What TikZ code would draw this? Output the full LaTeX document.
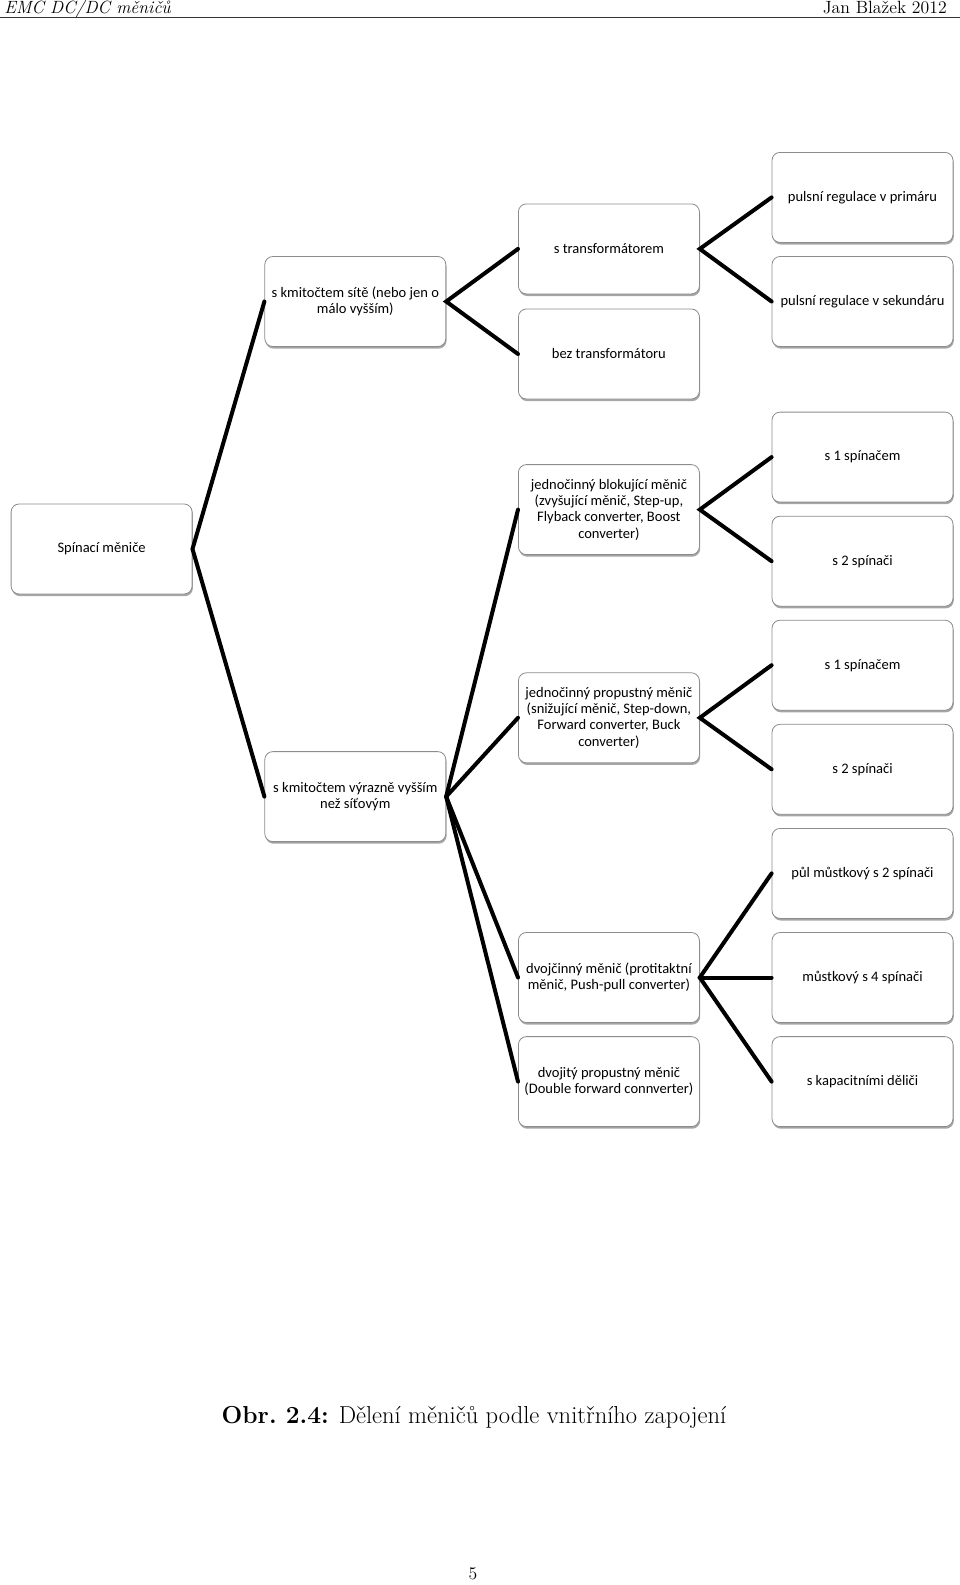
\documentclass[tikz,border=0pt]{standalone}
\usepackage{fontspec}
\setmainfont{Latin Modern Roman}
\newfontfamily\calibri{Carlito}
\usetikzlibrary{shadows}
\tikzset{
  box/.style={draw=black!45, line width=0.6pt, fill=white, rounded corners=6pt,
    minimum width=135.75pt, minimum height=67.5pt, inner sep=2pt, align=center,
    font=\calibri\fontsize{10.9}{12.2}\selectfont,
    drop shadow={shadow xshift=0.6pt, shadow yshift=-1.6pt, fill=black, opacity=0.35}},
  conn/.style={line width=3pt, line cap=round},
  pagetext/.style={font=\fontsize{13.3}{16}\selectfont}
}
\begin{document}
\begin{tikzpicture}[x=0.75pt, y=-0.75pt]
\useasboundingbox (0,0) rectangle (960,1585);
% header
\node[pagetext, anchor=base west, inner sep=0pt, font=\fontsize{13.3}{16}\selectfont\itshape] (hl) at (4,13) {EMC DC/DC měničů};
\node[pagetext, anchor=base east, inner sep=0pt] (hr) at (947,13) {Jan Blažek 2012};
\coordinate (rl) at (0,17.5);
\coordinate (rr) at (960,17.5);
\draw[line width=0.8pt, black!80] (rl) -- (rr);
% root
\node[box] (r) at (101.6,549) {Spínací měniče};
% level 1
\node[box] (a) at (355.3,301.5) {s kmitočtem sítě (nebo jen o\\málo vyšším)};
\node[box] (b) at (355.3,796.6) {s kmitočtem výrazně vyšším\\než síťovým};
% level 2
\node[box] (a1) at (608.9,248.9) {s transformátorem};
\node[box] (a2) at (608.9,354.0) {bez transformátoru};
\node[box] (b1) at (608.9,509.6) {jednočinný blokující měnič\\(zvyšující měnič, Step-up,\\Flyback converter, Boost\\converter)};
\node[box] (b2) at (608.9,717.8) {jednočinný propustný měnič\\(snižující měnič, Step-down,\\Forward converter, Buck\\converter)};
\node[box] (b3) at (608.9,977.5) {dvojčinný měnič (protitaktní\\měnič, Push-pull converter)};
\node[box] (b4) at (608.9,1081.6) {dvojitý propustný měnič\\(Double forward connverter)};
% level 3
\node[box] (a11) at (862.5,197.4) {pulsní regulace v primáru};
\node[box] (a12) at (862.5,301.5) {pulsní regulace v sekundáru};
\node[box] (b11) at (862.5,457.1) {s 1 spínačem};
\node[box] (b12) at (862.5,561.2) {s 2 spínači};
\node[box] (b21) at (862.5,665.2) {s 1 spínačem};
\node[box] (b22) at (862.5,769.3) {s 2 spínači};
\node[box] (b31) at (862.5,873.4) {půl můstkový s 2 spínači};
\node[box] (b32) at (862.5,977.5) {můstkový s 4 spínači};
\node[box] (b33) at (862.5,1081.6) {s kapacitními děliči};
% connectors
\draw[conn] (a.west) -- (r.east) -- (b.west);
\draw[conn] (a1.west) -- (a.east) -- (a2.west);
\draw[conn] (b.east) -- (b1.west);
\draw[conn] (b.east) -- (b2.west);
\draw[conn] (b.east) -- (b3.west);
\draw[conn] (b.east) -- (b4.west);
\draw[conn] (a11.west) -- (a1.east) -- (a12.west);
\draw[conn] (b11.west) -- (b1.east) -- (b12.west);
\draw[conn] (b21.west) -- (b2.east) -- (b22.west);
\draw[conn] (b31.west) -- (b3.east) -- (b33.west);
\draw[conn] (b3.east) -- (b32.west);
% caption
\node[anchor=base, inner sep=0pt, font=\fontsize{18.4}{22}\selectfont] (cap) at (474,1423) {\textbf{Obr.\ 2.4:} Dělení měničů podle vnitřního zapojení};
\node[pagetext, anchor=base, inner sep=0pt] (pg) at (473,1579) {5};
\end{tikzpicture}
\end{document}
